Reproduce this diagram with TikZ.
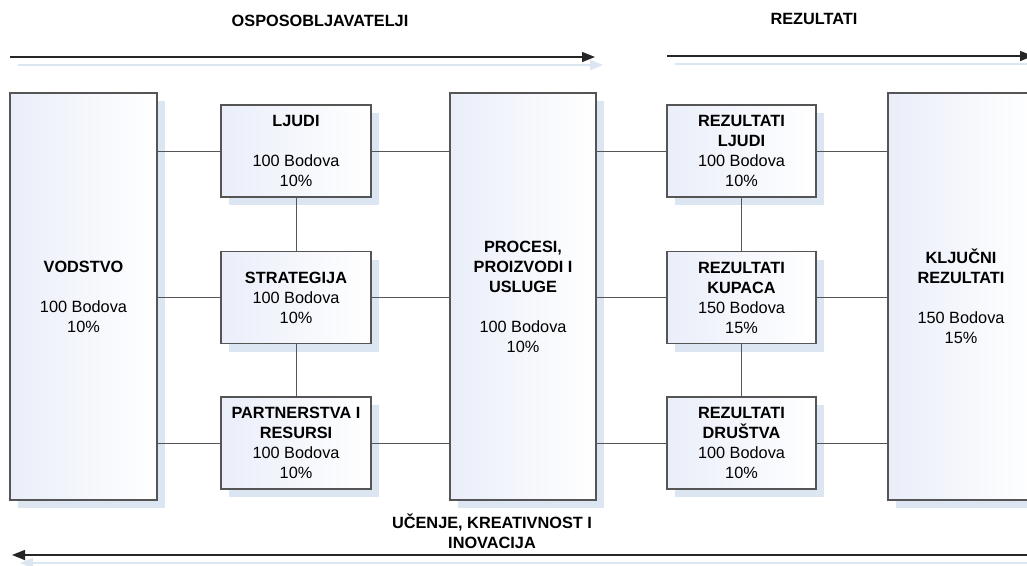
\documentclass[tikz,border=0pt]{standalone}
\usepackage{fontspec}
\setmainfont{Liberation Sans}
\usetikzlibrary{shadows,backgrounds,arrows.meta}
\definecolor{shd}{RGB}{220,230,242}
\definecolor{edgec}{RGB}{85,85,85}
\definecolor{gradc}{RGB}{234,238,249}
\newcommand\bfnt{\fontsize{16.3}{20}\selectfont}
\tikzset{
  anybox/.style={draw=edgec, line width=1.1pt, left color=gradc, right color=white,
    inner sep=0pt, align=center, font=\bfnt,
    drop shadow={shadow xshift=8pt, shadow yshift=-8pt, fill=shd, opacity=1}},
  bigbox/.style={anybox, minimum width=147pt, minimum height=407pt},
  smallbox/.style={anybox, minimum width=150pt, minimum height=92pt},
  conn/.style={draw=edgec, line width=0.9pt},
  connshd/.style={draw=shd, line width=1.2pt},
  bigarrow/.style={draw=black!85, line width=1.4pt, -{Triangle[length=13pt,width=10pt]}},
  arrowshd/.style={draw=shd, line width=1.6pt, -{Triangle[length=13pt,width=10pt]}},
  title/.style={font=\bfnt\bfseries, align=center, inner sep=0pt}
}
\begin{document}
\begin{tikzpicture}[x=1pt,y=-1pt]
\useasboundingbox[fill=white] (0,0) rectangle (1027,565);

% arrows (shadows first)
\coordinate (a1s) at (10,57);
\coordinate (a1e) at (595,57);
\coordinate (a2s) at (667,56);
\coordinate (a2e) at (1033,56);
\coordinate (a3s) at (1040,555);
\coordinate (a3e) at (12,555);
\begin{scope}[transform canvas={shift={(8pt,-8pt)}}]
  \draw[arrowshd] (a1s) -- (a1e);
  \draw[arrowshd] (a2s) -- (a2e);
  \draw[arrowshd] (a3s) -- (a3e);
\end{scope}
\draw[bigarrow] (a1s) -- (a1e);
\draw[bigarrow] (a2s) -- (a2e);
\draw[bigarrow] (a3s) -- (a3e);

% titles
\node[title] (t1) at (320,21) {OSPOSOBLJAVATELJI};
\node[title] (t2) at (814,19) {REZULTATI};
\node[title] (t3) at (492,531) {UČENJE, KREATIVNOST I\\INOVACIJA};

% boxes
\node[bigbox] (vod) at (83.5,296.5) {\textbf{VODSTVO}\\[20pt]100 Bodova\\10\%};
\node[smallbox] (lj) at (296,151) {\textbf{LJUDI}\\[20pt]100 Bodova\\10\%};
\node[smallbox] (st) at (296,297.5) {\textbf{STRATEGIJA}\\100 Bodova\\10\%};
\node[smallbox] (pr) at (296,443) {\textbf{PARTNERSTVA I}\\\textbf{RESURSI}\\100 Bodova\\10\%};
\node[bigbox, minimum width=146pt] (proc) at (523,296.5) {\textbf{PROCESI,}\\\textbf{PROIZVODI I}\\\textbf{USLUGE}\\[20pt]100 Bodova\\10\%};
\node[smallbox, minimum width=149pt] (rl) at (741.5,151) {\textbf{REZULTATI}\\\textbf{LJUDI}\\100 Bodova\\10\%};
\node[smallbox, minimum width=149pt] (rk) at (741.5,297.5) {\textbf{REZULTATI}\\\textbf{KUPACA}\\150 Bodova\\15\%};
\node[smallbox, minimum width=149pt] (rd) at (741.5,443) {\textbf{REZULTATI}\\\textbf{DRUŠTVA}\\100 Bodova\\10\%};
\node[bigbox, minimum width=146pt] (kl) at (961,296.5) {\textbf{KLJUČNI}\\\textbf{REZULTATI}\\[20pt]150 Bodova\\15\%};

% connectors with shadows
\begin{scope}[on background layer]
 \begin{scope}[transform canvas={shift={(8pt,-8pt)}}]
  \foreach \b in {lj,st,pr}{
    \draw[connshd] (vod.east |- \b) -- (\b.west);
    \draw[connshd] (\b.east) -- (proc.west |- \b);
  }
  \foreach \b in {rl,rk,rd}{
    \draw[connshd] (proc.east |- \b) -- (\b.west);
    \draw[connshd] (\b.east) -- (kl.west |- \b);
  }
  \draw[connshd] (lj.south) -- (st.north);
  \draw[connshd] (st.south) -- (pr.north);
  \draw[connshd] (rl.south) -- (rk.north);
  \draw[connshd] (rk.south) -- (rd.north);
 \end{scope}
\end{scope}
\foreach \b in {lj,st,pr}{
  \draw[conn] (vod.east |- \b) -- (\b.west);
  \draw[conn] (\b.east) -- (proc.west |- \b);
}
\foreach \b in {rl,rk,rd}{
  \draw[conn] (proc.east |- \b) -- (\b.west);
  \draw[conn] (\b.east) -- (kl.west |- \b);
}
\draw[conn] (lj.south) -- (st.north);
\draw[conn] (st.south) -- (pr.north);
\draw[conn] (rl.south) -- (rk.north);
\draw[conn] (rk.south) -- (rd.north);
\end{tikzpicture}
\end{document}
